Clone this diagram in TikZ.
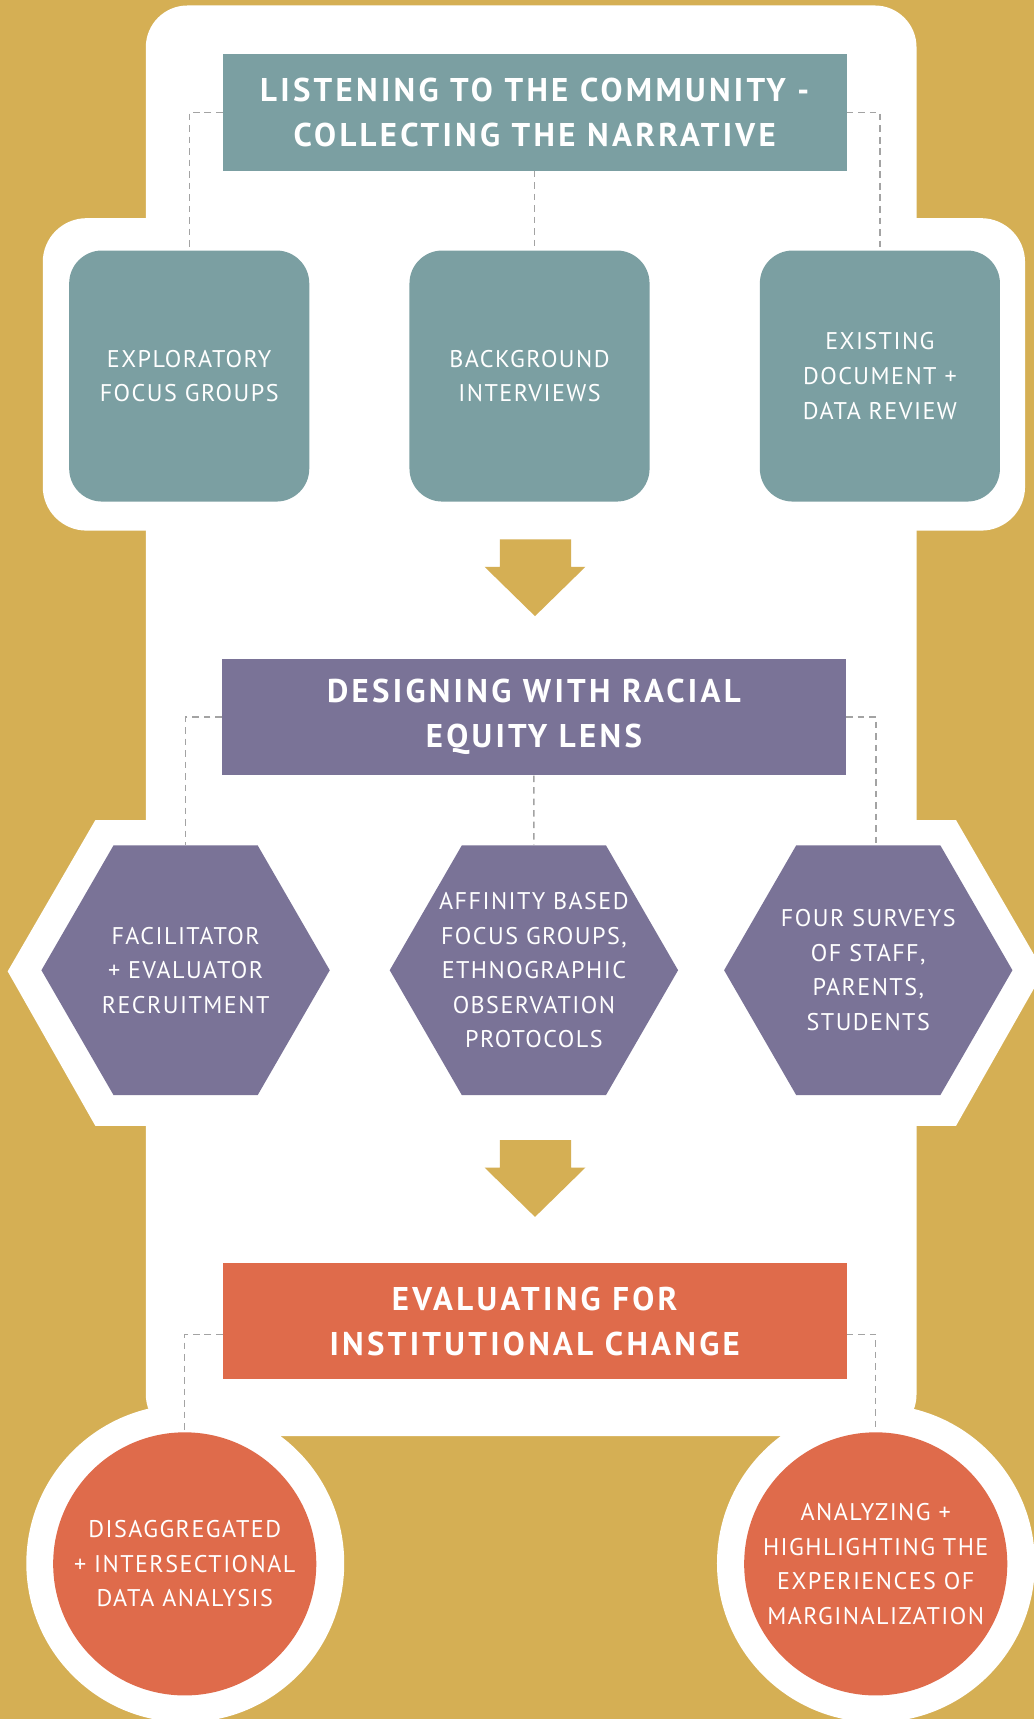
\documentclass[tikz,border=0pt]{standalone}
\usepackage{fontspec}
\setmainfont{PT Sans}
\newfontfamily\headfont[LetterSpace=10]{PT Sans}
\newfontfamily\stepfont[LetterSpace=6]{PT Sans}
\usetikzlibrary{shapes.geometric}

\definecolor{gold}{HTML}{D5AF54}
\definecolor{listenteal}{HTML}{7B9FA2}
\definecolor{designpurple}{HTML}{7A7397}
\definecolor{evalorange}{HTML}{DF6B4B}
\definecolor{dashgray}{HTML}{A3A3A3}

\tikzset{
  stagebox/.style={rectangle, minimum width=569, minimum height=106, inner sep=0pt, text=white, align=center, font=\headfont\bfseries\fontsize{30}{41}\selectfont},
  steptext/.style={text=white, align=center, inner sep=0pt, font=\stepfont\fontsize{22}{31.5}\selectfont},
  listenbox/.style={steptext, rectangle, rounded corners=30, fill=listenteal, minimum width=219, minimum height=229},
  designhex/.style={steptext, regular polygon, regular polygon sides=6, inner sep=-15pt, minimum size=263, fill=designpurple},
  evalcircle/.style={steptext, circle, minimum size=240, fill=evalorange},
  link/.style={dashgray, line width=1.3pt, dash pattern=on 6pt off 4.5pt}
}

\begin{document}
\begin{tikzpicture}[x=1pt,y=-1pt]
  \fill [gold] (0,0) rectangle (943,1568);
  \useasboundingbox (0,0) rectangle (943,1568);

  % white ground
  \fill [white, rounded corners=38] (133,5) rectangle (836,1310);
  \fill [white, rounded corners=40] (39,199) rectangle (935,484);
  \fill [white] (87,748) -- (872,748) -- (952,886) -- (872,1027) -- (87,1027) -- (7,886) -- cycle;
  \fill [white] (169,1426) circle (145pt);
  \fill [white] (799,1426) circle (145pt);

  \foreach \y in {492,1040}
    \fill [gold] (456,\y) -- (521,\y) -- (521,\y+25) -- (534,\y+25) -- (488,\y+70) -- (442,\y+25) -- (456,\y+25) -- cycle;

  \node [stagebox, fill=listenteal] (listen) at (487.7,102.6) {LISTENING TO THE COMMUNITY -\\COLLECTING THE NARRATIVE};
  \node [listenbox] (focus) at (172.6,343) {EXPLORATORY\\FOCUS GROUPS};
  \node [listenbox] (interview) at (483,343) {BACKGROUND\\INTERVIEWS};
  \node [listenbox] (review) at (802.6,343) {EXISTING\\DOCUMENT +\\DATA REVIEW};

  \node [stagebox, fill=designpurple] (design) at (487,654.2) {DESIGNING WITH RACIAL\\EQUITY LENS};
  \node [designhex] (recruit) at (169.3,885) {FACILITATOR\\+ EVALUATOR\\RECRUITMENT};
  \node [designhex] (affinity) at (487,885) {AFFINITY BASED\\FOCUS GROUPS,\\ETHNOGRAPHIC\\OBSERVATION\\PROTOCOLS};
  \node [designhex] (surveys) at (792,885) {FOUR SURVEYS\\OF STAFF,\\PARENTS,\\STUDENTS};

  \node [stagebox, fill=evalorange] (evaluate) at (487.7,1205.2) {EVALUATING FOR\\INSTITUTIONAL CHANGE};
  \node [evalcircle] (disagg) at (168.5,1426.5) {DISAGGREGATED\\+ INTERSECTIONAL\\DATA ANALYSIS};
  \node [evalcircle] (margin) at (798.8,1426.5) {ANALYZING +\\HIGHLIGHTING THE\\EXPERIENCES OF\\MARGINALIZATION};

  \draw [link] (listen.west) -| (focus.north);
  \draw [link] (listen.south) -- (listen.south |- interview.north);
  \draw [link] (listen.east) -| (review.north);

  \draw [link] (design.west) -| (recruit.north);
  \draw [link] (design.south) -- (affinity.north);
  \draw [link] (design.east) -| ([xshift=7pt]surveys.north);

  \draw [link] ([yshift=-12pt]evaluate.west) -| (disagg.north);
  \draw [link] ([yshift=-12pt]evaluate.east) -| (margin.north);
\end{tikzpicture}
\end{document}
